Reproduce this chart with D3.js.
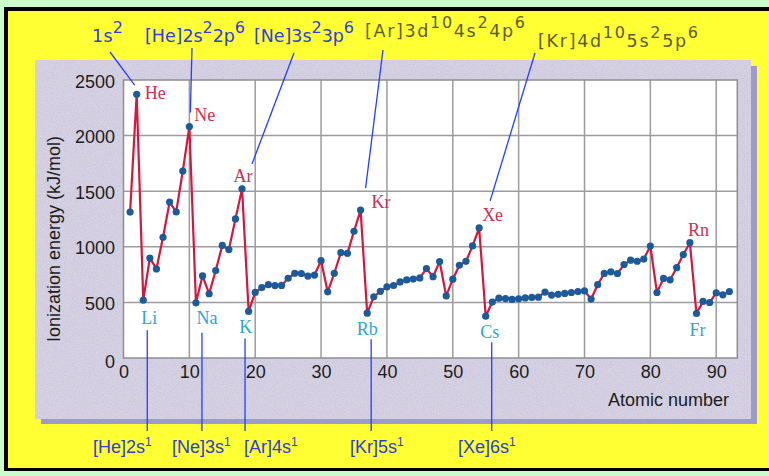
<!DOCTYPE html>
<html>
<head>
<meta charset="utf-8">
<script src="https://cdn.jsdelivr.net/npm/d3@7"></script>
<style>
  html, body { margin: 0; padding: 0; background: #ccfccc; }
  svg { display: block; }
</style>
</head>
<body>
<svg id="chart" width="769" height="476"></svg>
<script>
// first ionization energies (kJ/mol), atomic number 1..92
const energies = [1312, 2372, 520, 899, 801, 1086, 1402, 1314, 1681, 2081,
  496, 738, 578, 787, 1012, 975, 1251, 1521, 419, 590,
  633, 659, 651, 653, 717, 762, 760, 737, 746, 875,
  595, 762, 947, 941, 1140, 1330, 403, 550, 600, 640,
  652, 684, 702, 710, 720, 804, 731, 868, 558, 709,
  834, 869, 1008, 1170, 376, 503, 538, 534, 527, 533,
  540, 545, 547, 593, 566, 573, 581, 589, 597, 603,
  530, 659, 761, 775, 760, 840, 880, 870, 890, 1007,
  589, 716, 703, 812, 930, 1037, 400, 509, 499, 587,
  568, 598];

const xTicks = [0, 10, 20, 30, 40, 50, 60, 70, 80, 90];
const yTicks = [0, 500, 1000, 1500, 2000, 2500];

// noble gases (red) and alkali metals (cyan)
const nobleGases = [["He", 2], ["Ne", 10], ["Ar", 18], ["Kr", 36], ["Xe", 54], ["Rn", 86]];
const alkalis = [["Li", 3], ["Na", 11], ["K", 19], ["Rb", 37], ["Cs", 55], ["Fr", 87]];

// electron configurations: [z, parts] where parts = [text, superscript?]
const topConfigs = [
  [2, [["1s", 0], ["2", 1]]],
  [10, [["[He]2s", 0], ["2", 1], ["2p", 0], ["6", 1]]],
  [18, [["[Ne]3s", 0], ["2", 1], ["3p", 0], ["6", 1]]],
  [36, [["[Ar]3d", 0], ["10", 1], ["4s", 0], ["2", 1], ["4p", 0], ["6", 1]]],
  [54, [["[Kr]4d", 0], ["10", 1], ["5s", 0], ["2", 1], ["5p", 0], ["6", 1]]]
];
const bottomConfigs = [
  [3, [["[He]2s", 0], ["1", 1]]],
  [11, [["[Ne]3s", 0], ["1", 1]]],
  [19, [["[Ar]4s", 0], ["1", 1]]],
  [37, [["[Kr]5s", 0], ["1", 1]]],
  [55, [["[Xe]6s", 0], ["1", 1]]]
];

const svg = d3.select('#chart');

// noise texture for the grey panel
const defs = svg.append('defs');
const noise = defs.append('filter').attr('id', 'grain')
  .attr('x', 0).attr('y', 0).attr('width', '100%').attr('height', '100%');
noise.append('feTurbulence').attr('type', 'fractalNoise')
  .attr('baseFrequency', 0.9).attr('numOctaves', 2).attr('seed', 3);
noise.append('feColorMatrix').attr('type', 'matrix')
  .attr('values', '0 0 0 0 0.45  0 0 0 0 0.42  0 0 0 0 0.6  0 0 0 -1.4 0.85');
noise.append('feComposite').attr('in2', 'SourceGraphic').attr('operator', 'in');

// frame: black border, yellow card
svg.append('rect').attr('x', 4).attr('y', 7).attr('width', 780).attr('height', 464).attr('fill', '#000');
svg.append('rect').attr('x', 8).attr('y', 11).attr('width', 780).attr('height', 457).attr('fill', '#ffff33');

// grey panel with shadow
svg.append('rect').attr('x', 41).attr('y', 66).attr('width', 716).attr('height', 358).attr('fill', '#9d9cc9');
svg.append('rect').attr('x', 35).attr('y', 60).attr('width', 716).attr('height', 359).attr('fill', '#d6d2e3');
svg.append('rect').attr('x', 35).attr('y', 60).attr('width', 716).attr('height', 359)
  .attr('fill', '#d6d2e3').attr('filter', 'url(#grain)').attr('opacity', 0.55);

const x = d3.scaleLinear().domain([0, 93.2]).range([123.5, 737.3]);
const y = d3.scaleLinear().domain([0, 2500]).range([358, 80]);

// plot area
svg.append('rect')
  .attr('x', x(0)).attr('y', y(2500))
  .attr('width', x(93.2) - x(0)).attr('height', y(0) - y(2500))
  .attr('fill', '#fff');

const grid = svg.append('g').attr('stroke', '#9c9c9c').attr('stroke-width', 1.5);
grid.selectAll('.vg').data(xTicks.slice(1)).join('line')
  .attr('x1', d => x(d)).attr('x2', d => x(d))
  .attr('y1', y(0)).attr('y2', y(2500));
grid.selectAll('.hg').data(yTicks.slice(1, -1)).join('line')
  .attr('x1', x(0)).attr('x2', x(93.2))
  .attr('y1', d => y(d)).attr('y2', d => y(d));
svg.append('rect')
  .attr('x', x(0)).attr('y', y(2500))
  .attr('width', x(93.2) - x(0)).attr('height', y(0) - y(2500))
  .attr('fill', 'none').attr('stroke', '#8e8e8e').attr('stroke-width', 1.5);

// axes
const tickFont = g => g.selectAll('text')
  .attr('font-family', '"Liberation Sans", Arial, sans-serif')
  .attr('font-size', 18).attr('fill', '#1c1c1c');

svg.append('g').attr('transform', `translate(0,${y(0)})`)
  .call(d3.axisBottom(x).tickValues(xTicks).tickFormat(d3.format('d')).tickSize(0).tickPadding(7))
  .call(g => g.select('.domain').remove())
  .call(tickFont);

const yAxis = svg.append('g').attr('transform', `translate(${x(0)},0)`)
  .call(d3.axisLeft(y).tickValues(yTicks).tickFormat(d3.format('d')).tickSize(0).tickPadding(8.5))
  .call(g => g.select('.domain').remove())
  .call(tickFont);
yAxis.selectAll('text').attr('dy', d => d === 0 ? '0.55em' : '0.39em');

svg.append('text')
  .attr('transform', 'translate(60,239) rotate(-90)')
  .attr('text-anchor', 'middle')
  .attr('font-family', '"Liberation Sans", Arial, sans-serif')
  .attr('font-size', 18).attr('fill', '#1c1c1c')
  .text('Ionization energy (kJ/mol)');

svg.append('text')
  .attr('x', 729).attr('y', 406)
  .attr('text-anchor', 'end')
  .attr('font-family', '"Liberation Sans", Arial, sans-serif')
  .attr('font-size', 18).attr('fill', '#1c1c1c')
  .text('Atomic number');

// the series
const points = energies.map((v, i) => ({ z: i + 1, v }));
const line = d3.line().x(d => x(d.z)).y(d => y(d.v));

svg.append('path').datum(points)
  .attr('d', line)
  .attr('fill', 'none')
  .attr('stroke', '#d7163f')
  .attr('stroke-width', 2.2)
  .attr('stroke-linejoin', 'round');

svg.append('g').selectAll('circle').data(points).join('circle')
  .attr('cx', d => x(d.z)).attr('cy', d => y(d.v))
  .attr('r', 3.6)
  .attr('fill', '#1d5a9a');

// element labels
const at = z => ({ px: x(z), py: y(energies[z - 1]) });
const serif = '"Liberation Serif", "Times New Roman", serif';

const nobleOffsets = { He: [8, 5, 'start'], Ne: [5, -6, 'start'], Ar: [1, -7, 'middle'],
  Kr: [11, -2, 'start'], Xe: [3, -7, 'start'], Rn: [-2, -7, 'start'] };
nobleGases.forEach(([name, z]) => {
  const p = at(z), o = nobleOffsets[name];
  svg.append('text').attr('x', p.px + o[0]).attr('y', p.py + o[1])
    .attr('text-anchor', o[2])
    .attr('font-family', serif).attr('font-size', 18).attr('fill', '#d42c50')
    .text(name);
});

const alkaliOffsets = { Li: [6, 24], Na: [11, 21], K: [-3, 22], Rb: [0, 22], Cs: [4, 22], Fr: [1, 22] };
alkalis.forEach(([name, z]) => {
  const p = at(z), o = alkaliOffsets[name];
  svg.append('text').attr('x', p.px + o[0]).attr('y', p.py + o[1])
    .attr('text-anchor', 'middle')
    .attr('font-family', serif).attr('font-size', 18).attr('fill', '#2aa6d6')
    .text(name);
});

// configuration labels with superscripts
function config(parts, tx, ty, opts) {
  const t = svg.append('text').attr('x', tx).attr('y', ty)
    .attr('font-family', opts.font).attr('font-size', opts.size).attr('fill', opts.color);
  let up = false;
  parts.forEach(([s, sup]) => {
    const span = t.append('tspan').text(s);
    if (sup && !up) { span.attr('dy', -opts.rise).attr('font-size', opts.supSize); up = true; }
    else if (sup) { span.attr('font-size', opts.supSize); }
    else if (up) { span.attr('dy', opts.rise); up = false; }
  });
  if (opts.width) t.attr('textLength', opts.width).attr('lengthAdjust', 'spacing');
  return t;
}

const topFont = { font: '"DejaVu Sans", Verdana, sans-serif', size: 17.5, supSize: 16, rise: 9 };
// label anchor [x, baseline, width], leader start, leader end offset from the point, colour
const topLayout = [
  [92, 42, 31, 110, 52, -2, -9, '#2b40e6'],
  [145, 42, 100, 192, 48, 1, -14, '#2b40e6'],
  [254, 42, 100, 294, 53, 10, -25, '#2b40e6'],
  [365, 37, 160, 383, 50, 5, -22, '#5c5c30'],
  [538, 47, 160, 535, 53, 11, -27, '#5c5c30']
];
topConfigs.forEach(([z, parts], i) => {
  const L = topLayout[i], p = at(z);
  svg.append('line')
    .attr('x1', L[3]).attr('y1', L[4])
    .attr('x2', p.px + L[5]).attr('y2', p.py + L[6])
    .attr('stroke', '#2040ff').attr('stroke-width', 1.3);
  config(parts, L[0], L[1], Object.assign({ color: L[7], width: L[2] }, topFont));
});

const bottomFont = { font: '"Liberation Sans", Arial, sans-serif', size: 18, supSize: 12, rise: 7, color: '#2b3fd8' };
// label x, leader x offset from the point, leader top offset below the point
const bottomLayout = [[93, 4, 30], [172, 6, 30], [244, -3.6, 27], [350, 4, 26], [458, 6, 26]];
bottomConfigs.forEach(([z, parts], i) => {
  const L = bottomLayout[i], p = at(z);
  svg.append('line')
    .attr('x1', p.px + L[1]).attr('x2', p.px + L[1])
    .attr('y1', p.py + L[2]).attr('y2', 431)
    .attr('stroke', '#2040ff').attr('stroke-width', 1.3);
  config(parts, L[0], 453, bottomFont);
});
</script>
</body>
</html>
